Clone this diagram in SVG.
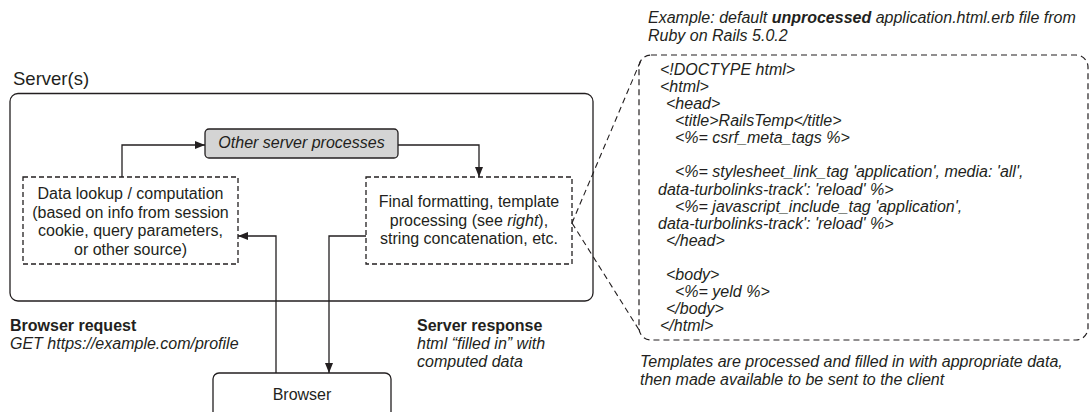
<svg xmlns="http://www.w3.org/2000/svg" width="1091" height="412" viewBox="0 0 1091 412">
<style>
text{font-family:"Liberation Sans",Arial,sans-serif;font-size:16px;fill:#231f20}
.it{font-style:italic}
.b{font-weight:bold}
.c{text-anchor:middle}
.solid{fill:#fff;stroke:#231f20;stroke-width:1.3}
.dash{fill:#fff;stroke:#231f20;stroke-width:1.3;stroke-dasharray:5 3}
.conn{fill:none;stroke:#231f20;stroke-width:1.3}
.lead{fill:none;stroke:#231f20;stroke-width:1.1;stroke-dasharray:6 4}
</style>
<defs>
<marker id="ah" viewBox="0 0 10 8" refX="10" refY="4" markerWidth="10" markerHeight="8" markerUnits="userSpaceOnUse" orient="auto">
<path d="M0,0 L10,4 L0,8 Z" fill="#231f20"/>
</marker>
</defs>

<g id="server">
<text x="13" y="85" style="font-size:18.5px">Server(s)</text>
<rect class="solid" x="10" y="93.5" width="583" height="207.5" rx="8"/>
</g>

<g id="other-processes">
<rect x="205" y="129" width="193" height="29" rx="4" fill="#d4d4d4" stroke="#231f20" stroke-width="1.3"/>
<text class="it c" x="301.5" y="148">Other server processes</text>
</g>

<g id="data-lookup">
<rect class="dash" x="23" y="177" width="215" height="87"/>
<text class="c" x="130.5" y="199">Data lookup / computation</text>
<text class="c" x="130.5" y="217.5">(based on info from session</text>
<text class="c" x="130.5" y="236">cookie, query parameters,</text>
<text class="c" x="130.5" y="254.5">or other source)</text>
</g>

<g id="final-formatting">
<rect class="dash" x="366" y="177" width="206" height="87"/>
<text class="c" x="469" y="207">Final formatting, template</text>
<text class="c" x="469" y="225.5">processing (see <tspan class="it">right</tspan>),</text>
<text class="c" x="469" y="244">string concatenation, etc.</text>
</g>

<g id="browser">
<rect class="solid" x="213" y="373" width="178" height="60" rx="6"/>
<text class="c" x="302" y="400">Browser</text>
</g>

<g id="browser-request">
<text class="b" x="10" y="331">Browser request</text>
<text class="it" x="10" y="349">GET https://example.com/profile</text>
</g>

<g id="server-response">
<text class="b" x="417" y="331">Server response</text>
<text class="it" x="417" y="349">html “filled in” with</text>
<text class="it" x="417" y="367">computed data</text>
</g>

<g id="template-example">
<text class="it" x="648" y="23">Example: default <tspan class="b">unprocessed</tspan> application.html.erb file from</text>
<text class="it" x="648" y="41">Ruby on Rails 5.0.2</text>
<rect x="639" y="55" width="449" height="285" rx="12" fill="none" stroke="#231f20" stroke-width="1.2" stroke-dasharray="6 4"/>
<text class="it" x="660" y="75">&lt;!DOCTYPE html&gt;</text>
<text class="it" x="660" y="92.1">&lt;html&gt;</text>
<text class="it" x="666" y="109.1">&lt;head&gt;</text>
<text class="it" x="675" y="126.2">&lt;title&gt;RailsTemp&lt;/title&gt;</text>
<text class="it" x="675" y="143.3">&lt;%= csrf_meta_tags %&gt;</text>
<text class="it" x="675" y="177.4">&lt;%= stylesheet_link_tag 'application', media: 'all',</text>
<text class="it" x="658" y="194.5">data-turbolinks-track': 'reload' %&gt;</text>
<text class="it" x="675" y="211.6">&lt;%= javascript_include_tag 'application',</text>
<text class="it" x="658" y="228.6">data-turbolinks-track': 'reload' %&gt;</text>
<text class="it" x="666" y="245.7">&lt;/head&gt;</text>
<text class="it" x="666" y="279.8">&lt;body&gt;</text>
<text class="it" x="675" y="296.9">&lt;%= yeld %&gt;</text>
<text class="it" x="666" y="314">&lt;/body&gt;</text>
<text class="it" x="660" y="331">&lt;/html&gt;</text>
<text class="it" x="640" y="367">Templates are processed and filled in with appropriate data,</text>
<text class="it" x="640" y="385">then made available to be sent to the client</text>
</g>

<g id="connectors">
<path class="conn" d="M122,177 V145 H205" marker-end="url(#ah)"/>
<path class="conn" d="M398,145 H479 V177" marker-end="url(#ah)"/>
<path class="conn" d="M276,373 V236 H238" marker-end="url(#ah)"/>
<path class="conn" d="M366,236 H329 V373" marker-end="url(#ah)"/>
<path class="lead" d="M572,223 L641,60"/>
<path class="lead" d="M572,223 L641,333"/>
</g>
</svg>
